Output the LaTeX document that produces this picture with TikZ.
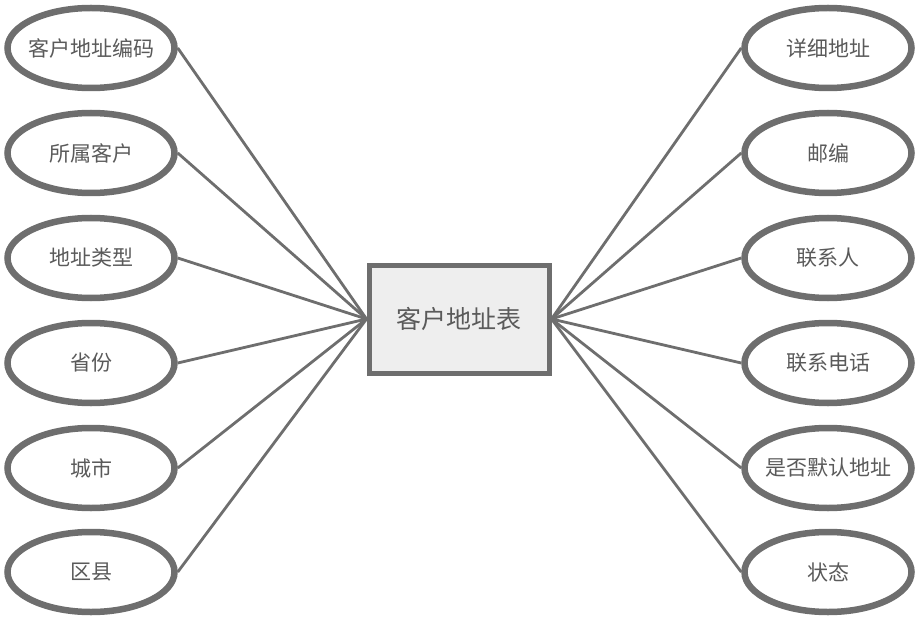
\documentclass[tikz,border=0pt]{standalone}
\usepackage{fontspec}
\setmainfont{Noto Sans CJK SC}
\usetikzlibrary{shapes.geometric}
\definecolor{edgegray}{HTML}{6E6E6E}
\definecolor{textgray}{HTML}{5A5A5A}
\definecolor{boxfill}{HTML}{EEEEEE}
\newcommand{\fixlbl}[1]{\makebox[0pt]{#1}}
\begin{document}
\begin{tikzpicture}[x=1pt,y=-1pt,
  attr/.style={ellipse,draw=edgegray,line width=6.5pt,fill=white,minimum width=167pt,minimum height=80pt,inner sep=0pt,text=textgray,font=\fontsize{21pt}{23pt}\selectfont},
  entity/.style={rectangle,draw=edgegray,line width=5pt,fill=boxfill,minimum width=180pt,minimum height=108pt,inner sep=0pt,text=textgray,font=\fontsize{25pt}{27pt}\selectfont},
  link/.style={draw=edgegray,line width=2.8pt}]
\useasboundingbox (0,0) rectangle (917,636);
\node[entity] (t) at (459,319) {客户地址表};
\node[attr] (l1) at (91,48) {\fixlbl{客户地址编码}};
\node[attr] (l2) at (91,153) {\fixlbl{所属客户}};
\node[attr] (l3) at (91,258) {\fixlbl{地址类型}};
\node[attr] (l4) at (91,363) {\fixlbl{省份}};
\node[attr] (l5) at (91,468) {\fixlbl{城市}};
\node[attr] (l6) at (91,572) {\fixlbl{区县}};
\node[attr] (r1) at (828,48) {\fixlbl{详细地址}};
\node[attr] (r2) at (828,153) {\fixlbl{邮编}};
\node[attr] (r3) at (828,258) {\fixlbl{联系人}};
\node[attr] (r4) at (828,363) {\fixlbl{联系电话}};
\node[attr] (r5) at (828,468) {\fixlbl{是否默认地址}};
\node[attr] (r6) at (828,572) {\fixlbl{状态}};
\foreach \n in {l1,l2,l3,l4,l5,l6}{\draw[link] (\n.east) -- (t.west);}
\foreach \n in {r1,r2,r3,r4,r5,r6}{\draw[link] (\n.west) -- (t.east);}
\end{tikzpicture}
\end{document}
